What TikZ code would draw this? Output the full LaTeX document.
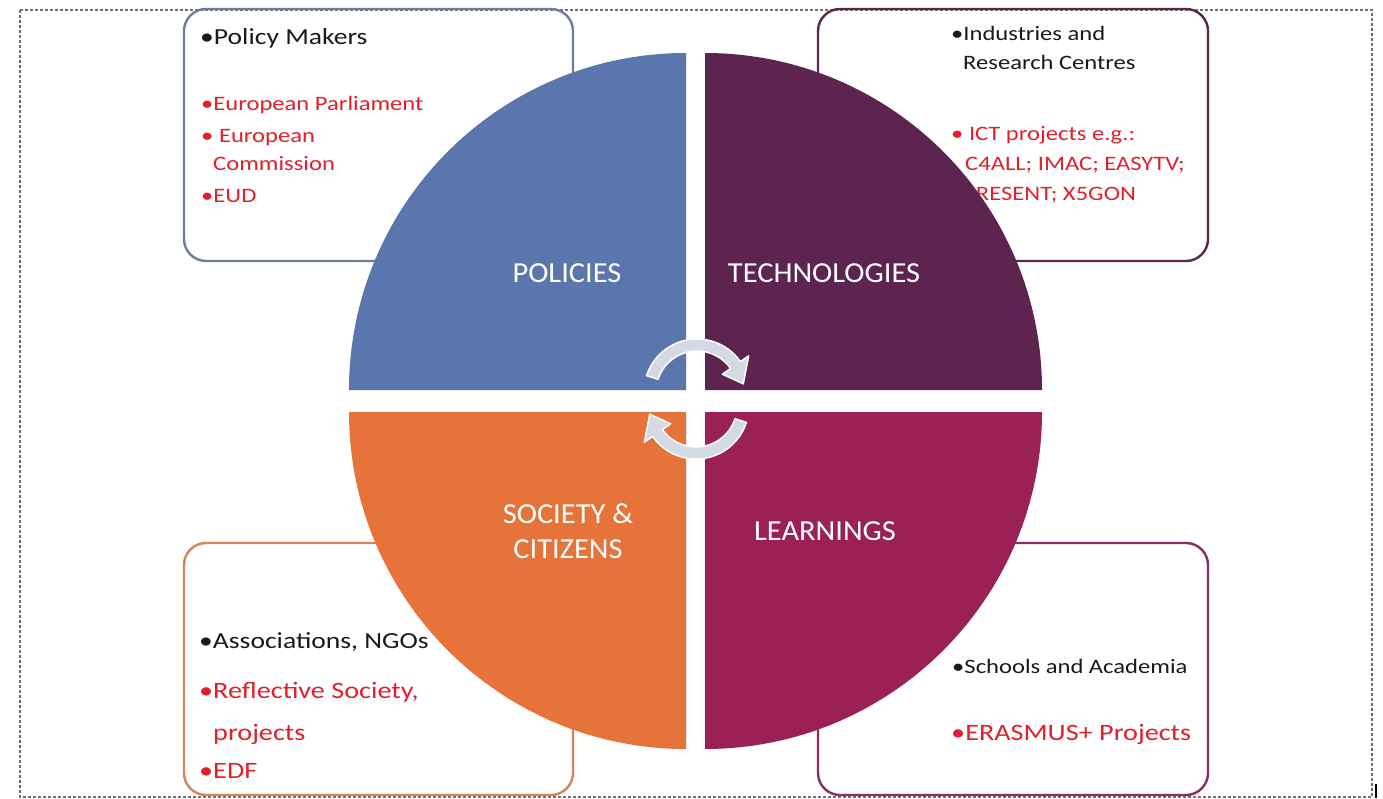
\documentclass[tikz,border=0pt]{standalone}
\usepackage{fontspec}
\newfontfamily\boxfont{Carlito}[FakeStretch=1.2]
\newfontfamily\labfont{Carlito}[FakeStretch=1.05]
\usetikzlibrary{calc}
\definecolor{qBlue}{HTML}{5A76AC}
\definecolor{qPurple}{HTML}{5D2450}
\definecolor{qOrange}{HTML}{E5733A}
\definecolor{qMagenta}{HTML}{9B2056}
\definecolor{bdBlue}{HTML}{6E7D9B}
\definecolor{bdPurple}{HTML}{5A284B}
\definecolor{bdOrange}{HTML}{D7825F}
\definecolor{bdMagenta}{HTML}{8C2D5F}
\definecolor{txRed}{HTML}{E0202A}
\definecolor{txBlack}{HTML}{1A1A1A}
\definecolor{arrFill}{HTML}{D3DAE3}
\definecolor{frameGray}{HTML}{707070}
\tikzset{
  frame/.style={draw=frameGray, line width=1.1pt, dash pattern=on 3pt off 2pt},
  boxline/.style={line width=2.4pt, rounded corners=22pt},
  bkL/.style={anchor=base west, inner sep=0pt, text=txBlack, font=\boxfont\fontsize{23}{28}\selectfont},
  bkS/.style={anchor=base west, inner sep=0pt, text=txBlack, font=\boxfont\fontsize{20.5}{25}\selectfont},
  rdS/.style={anchor=base west, inner sep=0pt, text=txRed, font=\boxfont\fontsize{20.5}{25}\selectfont},
  rdL/.style={anchor=base west, inner sep=0pt, text=txRed, font=\boxfont\fontsize{23.5}{28}\selectfont},
  lab/.style={anchor=base, inner sep=0pt, text=white, font=\labfont\fontsize{29}{35}\selectfont},
  arr/.style={fill=arrFill, draw=white, line width=1.5pt, line join=round},
}
\begin{document}
\begin{tikzpicture}[x=1pt,y=-1pt]
\useasboundingbox (0,0) rectangle (1383,798);
\fill[white] (0,0) rectangle (1383,798);
\draw[frame] (20,10) rectangle (1372,797);
\draw[black, line width=1.4pt] (1376,784) -- (1376,798);

% corner boxes
\draw[boxline, draw=bdBlue] (184,9) rectangle (573,261);
\draw[boxline, draw=bdPurple] (818,9) rectangle (1208,261);
\draw[boxline, draw=bdOrange] (184,543) rectangle (573,795);
\draw[boxline, draw=bdMagenta] (818,543) rectangle (1208,795);

% box texts
\node[bkL] (pm) at (200,44) {•Policy Makers};
\node[rdS] (ep) at (201,110) {•European Parliament};
\node[rdS] (ec) at (201,142) {• European};
\node[rdS] (ec2) at (213,170) {Commission};
\node[rdS] (eud) at (201,202) {•EUD};

\node[bkS] (ind) at (951,40) {•Industries and};
\node[bkS] (rc) at (963,69) {Research Centres};
\node[rdS] (ict) at (951,140) {• ICT projects e.g.:};
\node[rdS] (c4) at (965,170) {C4ALL; IMAC; EASYTV;};
\node[rdS] (pr) at (963,200) {PRESENT; X5GON};

\node[bkL] (as) at (199,648) {•Associations, NGOs};
\node[rdL] (rs) at (199,698) {•Reflective Society,};
\node[rdL] (pj) at (213,740) {projects};
\node[rdL] (edf) at (199,778) {•EDF};

\node[bkS] (sa) at (952,673) {•Schools and Academia};
\node[rdL] (er) at (951,740) {•ERASMUS+ Projects};

% quadrants
\fill[qBlue] (686,390) -- (686,53) arc[start angle=90, end angle=180, radius=337pt] -- cycle;
\fill[qPurple] (705,390) -- (705,53) arc[start angle=90, end angle=0, radius=337pt] -- cycle;
\fill[qOrange] (686,412) -- (686,749) arc[start angle=270, end angle=180, radius=337pt] -- cycle;
\fill[qMagenta] (705,412) -- (705,749) arc[start angle=270, end angle=360, radius=337pt] -- cycle;

% circular arrows
\coordinate (ct) at (697,392);
\coordinate (cb) at (696,406);
\filldraw[arr] ($(ct)+(162:53pt)$) arc[start angle=162, end angle=35, radius=53pt]
  -- ($(ct)+(35:63pt)$) -- ($(ct)+(10:47pt)$) -- ($(ct)+(35:31pt)$)
  -- ($(ct)+(35:41pt)$) arc[start angle=35, end angle=162, radius=41pt] -- cycle;
\filldraw[arr] ($(cb)+(-18:53pt)$) arc[start angle=-18, end angle=-145, radius=53pt]
  -- ($(cb)+(-145:63pt)$) -- ($(cb)+(-170:47pt)$) -- ($(cb)+(-145:31pt)$)
  -- ($(cb)+(-145:41pt)$) arc[start angle=-145, end angle=-18, radius=41pt] -- cycle;

% quadrant labels
\node[lab] (pol) at (567,282) {POLICIES};
\node[lab] (tec) at (824,282) {TECHNOLOGIES};
\node[lab] (soc1) at (568,523) {SOCIETY \&};
\node[lab] (soc2) at (568,558) {CITIZENS};
\node[lab] (lea) at (825,540) {LEARNINGS};
\end{tikzpicture}
\end{document}
